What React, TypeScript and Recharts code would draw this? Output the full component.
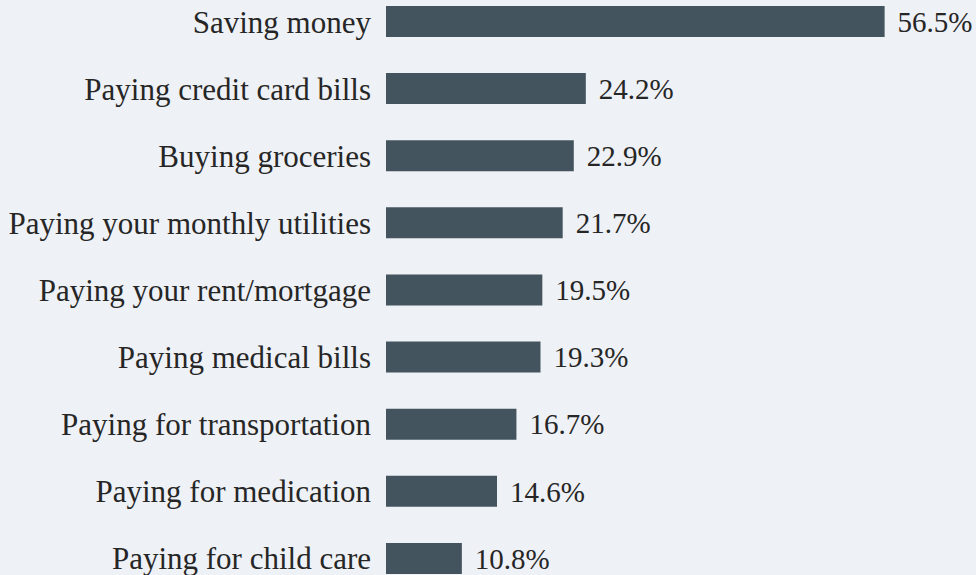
import { BarChart, Bar, XAxis, YAxis, LabelList } from "recharts";

const CATEGORIES = [
  "Saving money",
  "Paying credit card bills",
  "Buying groceries",
  "Paying your monthly utilities",
  "Paying your rent/mortgage",
  "Paying medical bills",
  "Paying for transportation",
  "Paying for medication",
  "Paying for child care",
];

const SHARES = [56.5, 24.2, 22.9, 21.7, 19.5, 19.3, 16.7, 14.6, 10.8];

const BG = "#eef1f5";
const BAR = "#44545f";
const TEXT = "#262626";
const FONT = "'Liberation Serif', serif";

const data = CATEGORIES.map((name, i) => ({ name, share: SHARES[i] }));

export default function App() {
  return (
    <div style={{ position: "absolute", left: 0, top: 0, width: 976, height: 575, overflow: "hidden", background: BG }}>
      <div style={{ position: "absolute", left: 0, top: -12 }}>
        <BarChart
          width={976}
          height={604}
          data={data}
          layout="vertical"
          margin={{ top: 0, right: 59, left: 0, bottom: 0 }}
        >
          <XAxis type="number" domain={[2.6, 60]} hide />
          <YAxis
            type="category"
            dataKey="name"
            width={386}
            axisLine={false}
            tickLine={false}
            tickSize={0}
            tickMargin={15}
            interval={0}
            tick={{ fontSize: 31, fill: TEXT, fontFamily: FONT }}
          />
          <Bar dataKey="share" fill={BAR} barSize={31} isAnimationActive={false}>
            <LabelList
              dataKey="share"
              position="right"
              offset={13}
              formatter={(v: number) => `${v.toFixed(1)}%`}
              style={{ fontSize: 29, fill: TEXT, fontFamily: FONT }}
            />
          </Bar>
        </BarChart>
      </div>
    </div>
  );
}
